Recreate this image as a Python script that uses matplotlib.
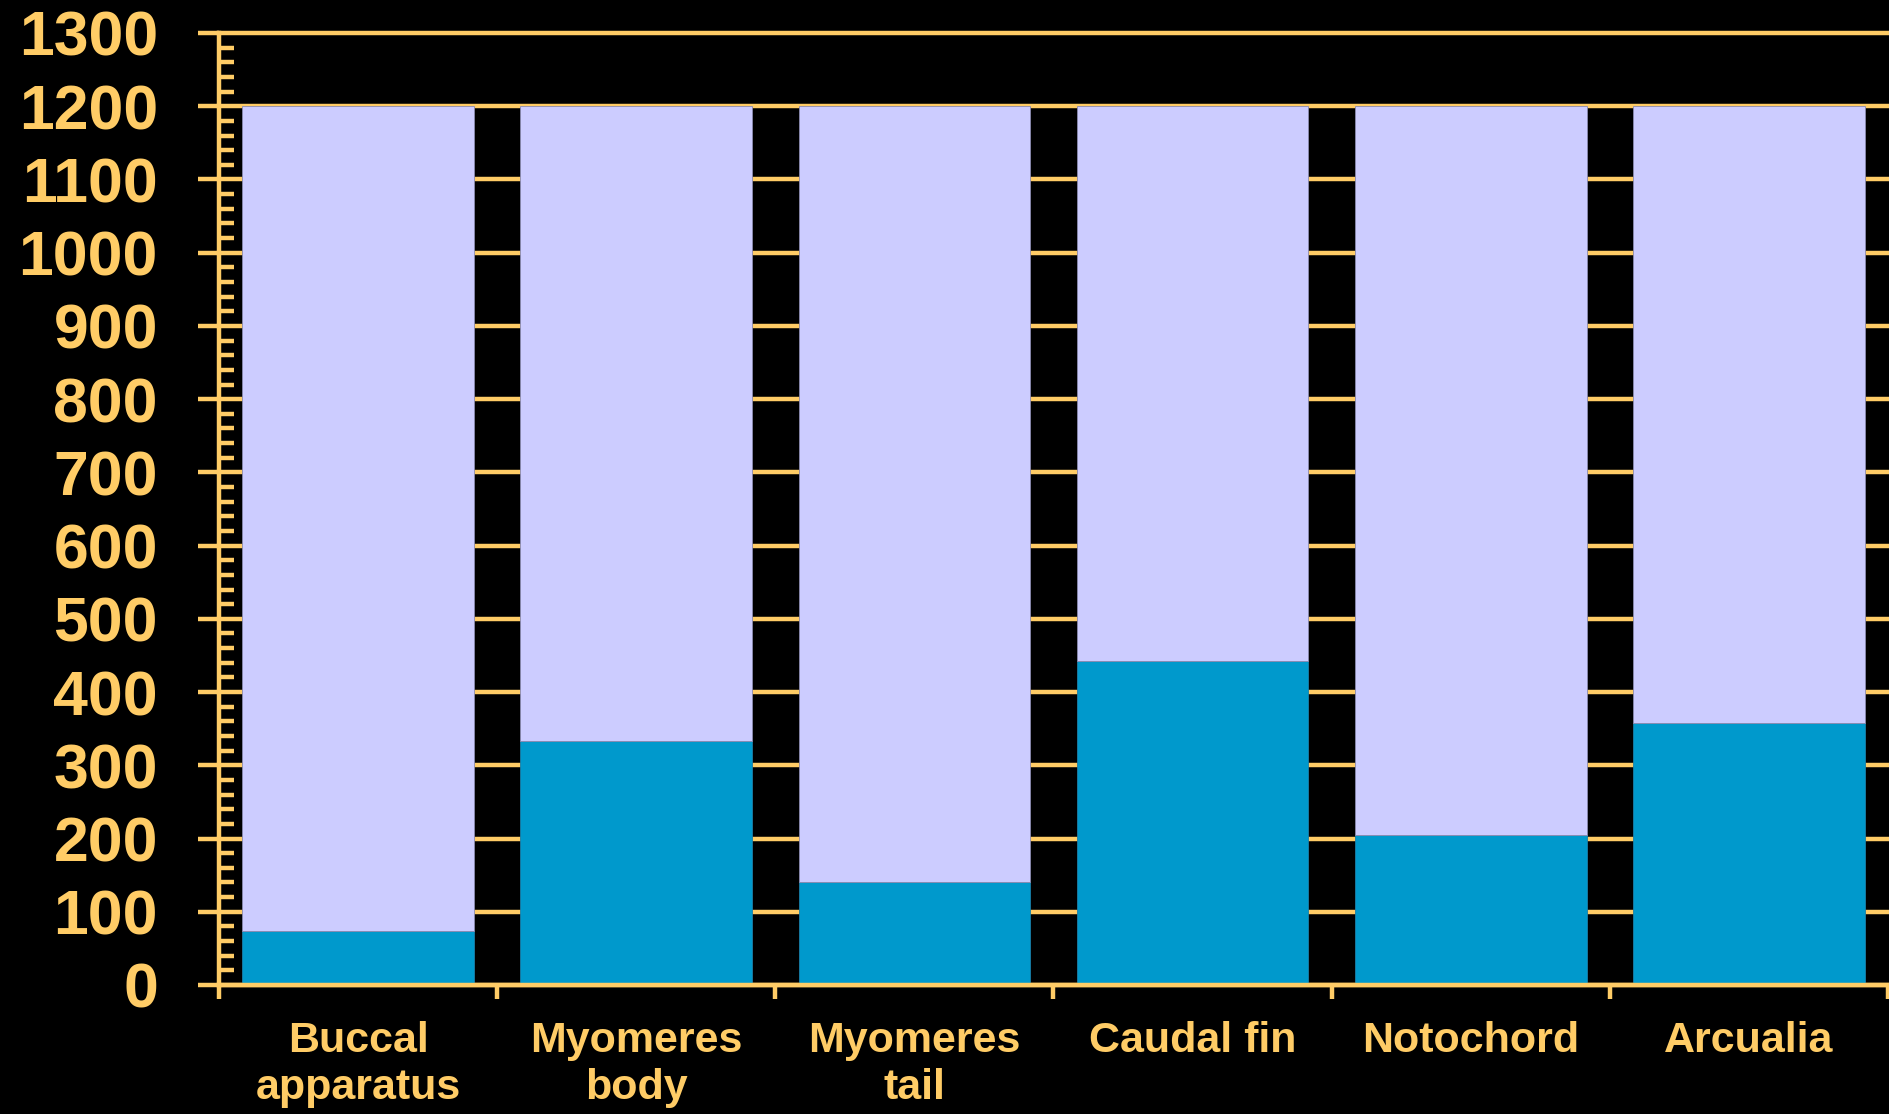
import matplotlib
matplotlib.use("Agg")
import matplotlib.pyplot as plt
import numpy as np
from matplotlib.ticker import MultipleLocator, FixedLocator

categories = ["Buccal\napparatus", "Myomeres\nbody", "Myomeres\ntail", "Caudal fin", "Notochord", "Arcualia"]
values = [74, 333, 140, 442, 205, 358]
total = 1200
remainder = [total - v for v in values]

YELLOW = "#FFCC66"
BLUE = "#0099CC"
LAV = "#CCCCFF"

plt.rcParams['font.family'] = ['Liberation Sans', 'DejaVu Sans']
plt.rcParams['font.weight'] = 'bold'

W, H = 1890, 1114
fig = plt.figure(figsize=(W/100, H/100), dpi=100, facecolor="black")
ax = fig.add_axes([219/W, (H-985)/H, (1888-219)/W, (985-33)/H])
ax.set_facecolor("black")

x = np.arange(len(categories))
lw = 3.2
ax.bar(x, values, width=0.833, color=BLUE, edgecolor="#1a7fa8", linewidth=0.6, zorder=2)
ax.bar(x, remainder, bottom=values, width=0.833, color=LAV, edgecolor="#8a8ab0", linewidth=0.6, zorder=2)

ax.set_xlim(-0.5, len(categories) - 0.5)
ax.set_ylim(0, 1300)

for s in ['top', 'right']:
    ax.spines[s].set_visible(False)
for s in ['left', 'bottom']:
    ax.spines[s].set_color(YELLOW)
    ax.spines[s].set_linewidth(lw)
    ax.spines[s].set_zorder(3)

ax.yaxis.set_major_locator(MultipleLocator(100))
ax.yaxis.set_minor_locator(MultipleLocator(20))
ax.tick_params(axis='y', which='major', direction='out', length=15, width=lw,
               color=YELLOW, labelcolor=YELLOW, labelsize=45, pad=29)
ax.tick_params(axis='y', which='minor', direction='in', length=11, width=lw, color=YELLOW)
for t in ax.get_yticklabels():
    t.set_fontweight('bold')

ax.set_xticks(x)
ax.set_xticklabels(categories, fontsize=31, fontweight='bold', color=YELLOW, linespacing=1.22)
ax.xaxis.set_minor_locator(FixedLocator(np.arange(len(categories) + 1) - 0.5))
ax.tick_params(axis='x', which='major', length=0, pad=26, labelcolor=YELLOW)
ax.tick_params(axis='x', which='minor', direction='out', length=10, width=lw, color=YELLOW)

ax.set_axisbelow(True)
ax.yaxis.grid(True, which='major', color=YELLOW, linewidth=lw, zorder=0)
for gl in ax.get_ygridlines():
    gl.set_clip_on(False)

fig.savefig("out.png", dpi=100, facecolor="black")
